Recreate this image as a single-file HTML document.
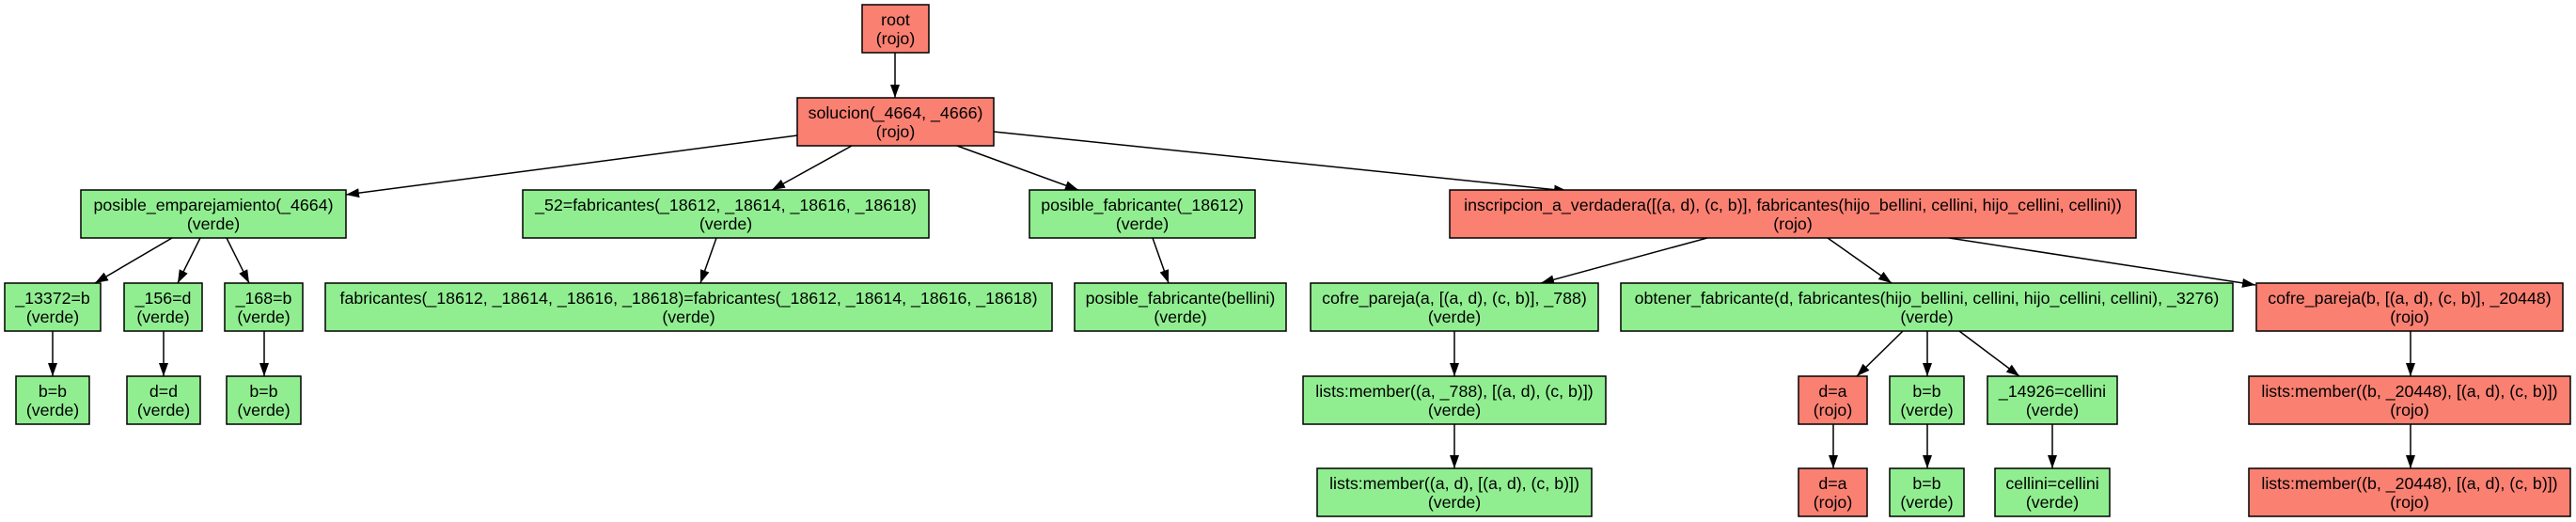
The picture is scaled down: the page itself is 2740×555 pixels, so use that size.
<!DOCTYPE html>
<html><head><meta charset="utf-8"><style>
html,body{margin:0;padding:0;background:#fff;}
svg{display:block;}
text{font-family:"Liberation Sans",Arial,sans-serif;font-size:17.8px;fill:#000;text-anchor:middle;}
.r{fill:#fa8072;stroke:#000;stroke-width:1.5;}
.g{fill:#90ee90;stroke:#000;stroke-width:1.5;}
line{stroke:#000;stroke-width:1.5;marker-end:url(#a);}
</style></head><body>
<svg width="2740" height="555" viewBox="0 0 2740 555" xmlns="http://www.w3.org/2000/svg">
<defs><marker id="a" markerUnits="userSpaceOnUse" markerWidth="16" markerHeight="12" refX="14" refY="5" orient="auto"><path d="M0,0 L14,5 L0,10 z" fill="#000"/></marker></defs>
<line x1="952" y1="56" x2="952" y2="104"/>
<line x1="848" y1="144" x2="368" y2="207"/>
<line x1="906" y1="155" x2="821" y2="202"/>
<line x1="1018" y1="155" x2="1147" y2="202"/>
<line x1="1057" y1="140" x2="1667" y2="203"/>
<line x1="183" y1="253" x2="101" y2="301"/>
<line x1="213" y1="253" x2="189" y2="301"/>
<line x1="241" y1="253" x2="265" y2="301"/>
<line x1="56" y1="352" x2="56" y2="400"/>
<line x1="174" y1="352" x2="174" y2="400"/>
<line x1="281" y1="352" x2="281" y2="400"/>
<line x1="762" y1="253" x2="745" y2="301"/>
<line x1="1226" y1="253" x2="1243" y2="301"/>
<line x1="1816" y1="253" x2="1639" y2="301"/>
<line x1="1944" y1="253" x2="2012" y2="301"/>
<line x1="2073" y1="253" x2="2399" y2="303"/>
<line x1="1547" y1="352" x2="1547" y2="400"/>
<line x1="1547" y1="451" x2="1547" y2="498"/>
<line x1="2024" y1="352" x2="1975" y2="400"/>
<line x1="2050" y1="352" x2="2050" y2="400"/>
<line x1="2084" y1="352" x2="2148" y2="400"/>
<line x1="1950" y1="451" x2="1950" y2="498"/>
<line x1="2050" y1="451" x2="2050" y2="498"/>
<line x1="2183" y1="451" x2="2183" y2="498"/>
<line x1="2564" y1="352" x2="2564" y2="400"/>
<line x1="2564" y1="451" x2="2564" y2="498"/>
<rect class="r" x="917" y="5" width="71" height="51"/><text x="952.5" y="27">root</text><text x="952.5" y="47">(rojo)</text>
<rect class="r" x="848" y="104" width="209" height="51"/><text x="952.5" y="126">solucion(_4664, _4666)</text><text x="952.5" y="146">(rojo)</text>
<rect class="g" x="86" y="202" width="282" height="51"/><text x="227" y="224">posible_emparejamiento(_4664)</text><text x="227" y="244">(verde)</text>
<rect class="g" x="556" y="202" width="432" height="51"/><text x="772" y="224">_52=fabricantes(_18612, _18614, _18616, _18618)</text><text x="772" y="244">(verde)</text>
<rect class="g" x="1095" y="202" width="240" height="51"/><text x="1215" y="224">posible_fabricante(_18612)</text><text x="1215" y="244">(verde)</text>
<rect class="r" x="1542" y="202" width="730" height="51"/><text x="1907" y="224">inscripcion_a_verdadera([(a, d), (c, b)], fabricantes(hijo_bellini, cellini, hijo_cellini, cellini))</text><text x="1907" y="244">(rojo)</text>
<rect class="g" x="5" y="301" width="102" height="51"/><text x="56" y="323">_13372=b</text><text x="56" y="343">(verde)</text>
<rect class="g" x="132" y="301" width="83" height="51"/><text x="173.5" y="323">_156=d</text><text x="173.5" y="343">(verde)</text>
<rect class="g" x="239" y="301" width="83" height="51"/><text x="280.5" y="323">_168=b</text><text x="280.5" y="343">(verde)</text>
<rect class="g" x="346" y="301" width="773" height="51"/><text x="732.5" y="323">fabricantes(_18612, _18614, _18616, _18618)=fabricantes(_18612, _18614, _18616, _18618)</text><text x="732.5" y="343">(verde)</text>
<rect class="g" x="1143" y="301" width="225" height="51"/><text x="1255.5" y="323">posible_fabricante(bellini)</text><text x="1255.5" y="343">(verde)</text>
<rect class="g" x="1394" y="301" width="306" height="51"/><text x="1547" y="323">cofre_pareja(a, [(a, d), (c, b)], _788)</text><text x="1547" y="343">(verde)</text>
<rect class="g" x="1724" y="301" width="651" height="51"/><text x="2049.5" y="323">obtener_fabricante(d, fabricantes(hijo_bellini, cellini, hijo_cellini, cellini), _3276)</text><text x="2049.5" y="343">(verde)</text>
<rect class="r" x="2400" y="301" width="326" height="51"/><text x="2563" y="323">cofre_pareja(b, [(a, d), (c, b)], _20448)</text><text x="2563" y="343">(rojo)</text>
<rect class="g" x="17" y="400" width="78" height="51"/><text x="56" y="422">b=b</text><text x="56" y="442">(verde)</text>
<rect class="g" x="135" y="400" width="78" height="51"/><text x="174" y="422">d=d</text><text x="174" y="442">(verde)</text>
<rect class="g" x="241" y="400" width="79" height="51"/><text x="280.5" y="422">b=b</text><text x="280.5" y="442">(verde)</text>
<rect class="g" x="1386" y="400" width="322" height="51"/><text x="1547" y="422">lists:member((a, _788), [(a, d), (c, b)])</text><text x="1547" y="442">(verde)</text>
<rect class="r" x="1913" y="400" width="73" height="51"/><text x="1949.5" y="422">d=a</text><text x="1949.5" y="442">(rojo)</text>
<rect class="g" x="2010" y="400" width="79" height="51"/><text x="2049.5" y="422">b=b</text><text x="2049.5" y="442">(verde)</text>
<rect class="g" x="2114" y="400" width="138" height="51"/><text x="2183" y="422">_14926=cellini</text><text x="2183" y="442">(verde)</text>
<rect class="r" x="2392" y="400" width="342" height="51"/><text x="2563" y="422">lists:member((b, _20448), [(a, d), (c, b)])</text><text x="2563" y="442">(rojo)</text>
<rect class="g" x="1401" y="498" width="292" height="51"/><text x="1547" y="520">lists:member((a, d), [(a, d), (c, b)])</text><text x="1547" y="540">(verde)</text>
<rect class="r" x="1913" y="498" width="73" height="51"/><text x="1949.5" y="520">d=a</text><text x="1949.5" y="540">(rojo)</text>
<rect class="g" x="2010" y="498" width="79" height="51"/><text x="2049.5" y="520">b=b</text><text x="2049.5" y="540">(verde)</text>
<rect class="g" x="2122" y="498" width="122" height="51"/><text x="2183" y="520">cellini=cellini</text><text x="2183" y="540">(verde)</text>
<rect class="r" x="2392" y="498" width="342" height="51"/><text x="2563" y="520">lists:member((b, _20448), [(a, d), (c, b)])</text><text x="2563" y="540">(rojo)</text>
</svg>
</body></html>
